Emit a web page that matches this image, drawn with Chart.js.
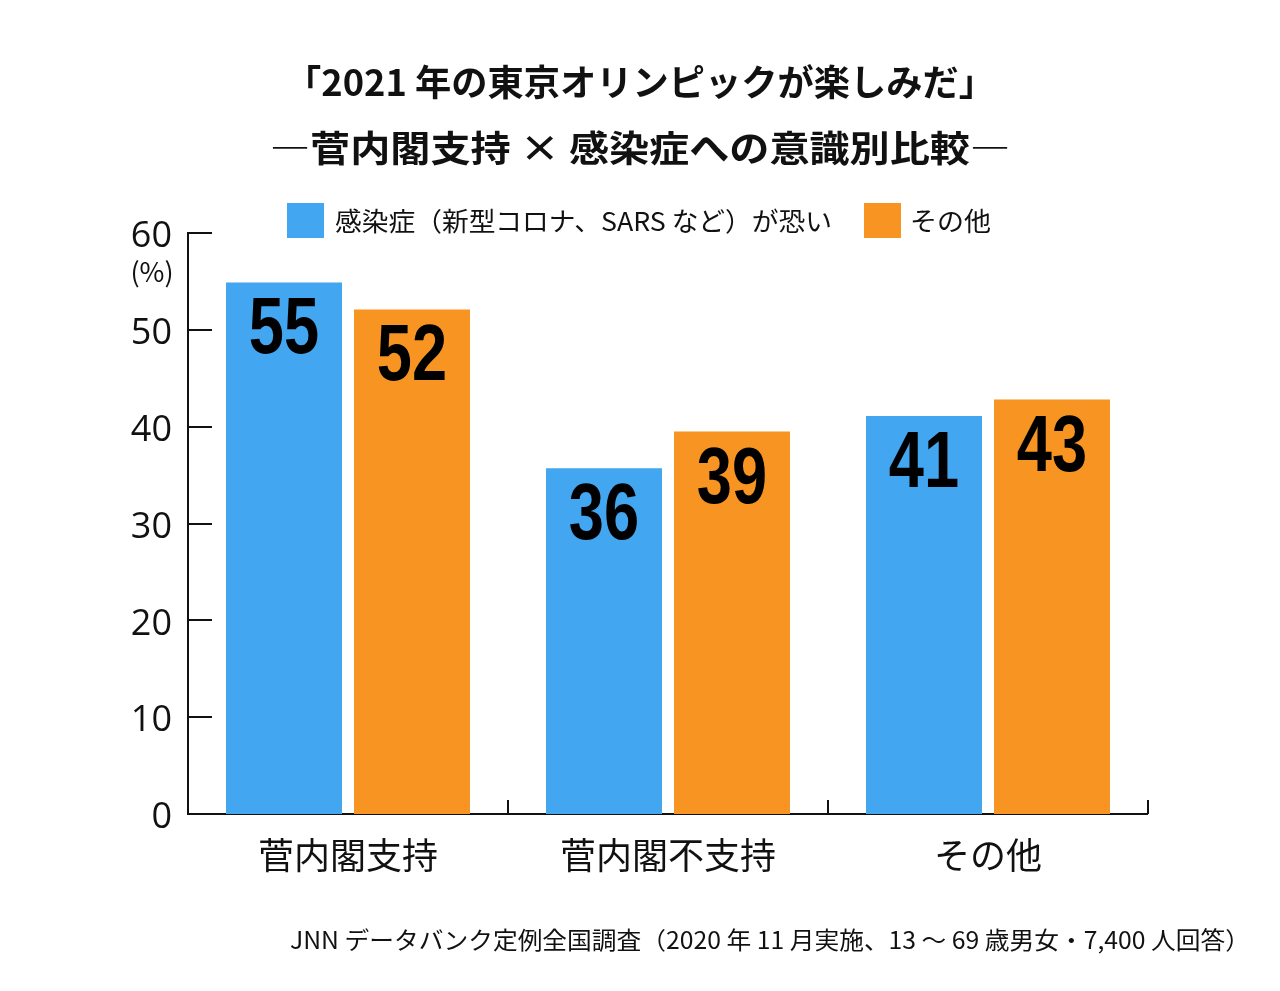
<!DOCTYPE html>
<html><head><meta charset="utf-8">
<script src="https://cdn.jsdelivr.net/npm/chart.js@4.4.1/dist/chart.umd.min.js"></script>
<style>html,body{margin:0;padding:0;background:#fff}#wrap{width:1280px;height:991px}</style>
</head><body><div id="wrap"><canvas id="c" width="1280" height="991"></canvas></div>
<script>
const categories = ['菅内閣支持', '菅内閣不支持', 'その他'];
const seriesNames = ['感染症（新型コロナ、SARS など）が恐い', 'その他'];
const fearValues = [54.9, 35.7, 41.1];
const otherValues = [52.1, 39.5, 42.8];
const fearLabels = ['55', '36', '41'];
const otherLabels = ['52', '39', '43'];
const yTicks = [0, 10, 20, 30, 40, 50, 60];
const yUnit = '(%)';
const titleLines = ['「2021 年の東京オリンピックが楽しみだ」', '―菅内閣支持 × 感染症への意識別比較―'];
const footnote = 'JNN データバンク定例全国調査（2020 年 11 月実施、13 〜 69 歳男女・7,400 人回答）';

const BLUE = '#42A6F0';
const ORANGE = '#F79422';
const INK = '#111111';
const JP = "'Noto Sans CJK JP', 'Noto Sans', sans-serif";
const NUM = "'Liberation Sans', Arial, sans-serif";

function fitText(ctx, text, x, y, width, align) {
  const w = ctx.measureText(text).width;
  const s = width / w;
  ctx.save();
  ctx.textAlign = 'left';
  let left = x;
  if (align === 'center') left = x - width / 2;
  else if (align === 'right') left = x - width;
  ctx.translate(left, y);
  ctx.scale(s, 1);
  ctx.fillText(text, 0, 0);
  ctx.restore();
}

const decor = {
  id: 'decor',
  afterDraw(chart) {
    const ctx = chart.ctx;
    const ca = chart.chartArea;
    const xs = chart.scales.x, ys = chart.scales.y;
    ctx.save();
    ctx.strokeStyle = INK;
    ctx.lineWidth = 2;
    // inward y ticks
    yTicks.forEach(v => {
      const y = Math.round(ys.getPixelForValue(v));
      ctx.beginPath(); ctx.moveTo(ca.left, y); ctx.lineTo(ca.left + 24, y); ctx.stroke();
    });
    // upward category separators
    const step = xs.width / categories.length;
    categories.forEach((c, i) => {
      const x = Math.round(xs.getPixelForValue(i) + step / 2);
      ctx.beginPath(); ctx.moveTo(x, ca.bottom); ctx.lineTo(x, ca.bottom - 14); ctx.stroke();
    });
    // unit
    ctx.fillStyle = INK;
    ctx.font = "27px " + JP;
    ctx.textAlign = 'center'; ctx.textBaseline = 'middle';
    ctx.fillText(yUnit, 152, 272);
    // data labels
    ctx.font = "bold 79px " + NUM;
    ctx.textBaseline = 'alphabetic';
    ctx.fillStyle = '#000';
    const lbls = [fearLabels, otherLabels];
    chart.data.datasets.forEach((ds, di) => {
      chart.getDatasetMeta(di).data.forEach((bar, i) => {
        const t = lbls[di][i];
        const w = ctx.measureText(t).width * 0.8;
        fitText(ctx, t, bar.x, bar.y + 71, w, 'center');
      });
    });
    // title
    ctx.fillStyle = INK;
    ctx.font = "bold 36px " + JP;
    ctx.textBaseline = 'middle';
    fitText(ctx, titleLines[0], 640, 82, 710, 'center');
    fitText(ctx, titleLines[1], 640, 148, 740, 'center');
    // legend
    const colors = [BLUE, ORANGE];
    const boxX = [287, 864];
    const textX = [335, 910];
    const textW = [497, 81];
    ctx.font = "26px " + JP;
    seriesNames.forEach((n, i) => {
      ctx.fillStyle = colors[i];
      ctx.fillRect(boxX[i], 203, 37, 35);
      ctx.fillStyle = INK;
      fitText(ctx, n, textX[i], 221, textW[i], 'left');
    });
    // footnote
    ctx.font = "24px " + JP;
    fitText(ctx, footnote, 1250, 940, 960, 'right');
    ctx.restore();
  }
};

new Chart(document.getElementById('c'), {
  type: 'bar',
  data: {
    labels: categories,
    datasets: [
      { label: seriesNames[0], data: fearValues, backgroundColor: BLUE, borderWidth: 0 },
      { label: seriesNames[1], data: otherValues, backgroundColor: ORANGE, borderWidth: 0 }
    ]
  },
  options: {
    responsive: false,
    animation: false,
    devicePixelRatio: 1,
    categoryPercentage: 0.8,
    barPercentage: 0.906,
    layout: { padding: { left: 0, top: 233, right: 132, bottom: 97 } },
    plugins: { legend: { display: false }, title: { display: false }, tooltip: { enabled: false } },
    scales: {
      x: {
        offset: true,
        grid: { display: true, drawOnChartArea: false, drawTicks: false, lineWidth: 0 },
        border: { display: true, color: INK, width: 2 },
        ticks: { color: INK, font: { family: JP, size: 36 }, padding: 20 },
        afterFit: s => { s.height = 80; }
      },
      y: {
        min: 0, max: 60,
        afterBuildTicks: s => { s.ticks = yTicks.map(v => ({ value: v })); },
        grid: { display: true, drawOnChartArea: false, drawTicks: false, lineWidth: 0 },
        border: { display: true, color: INK, width: 2 },
        ticks: { color: INK, font: { family: "'Open Sans', 'Noto Sans', sans-serif", size: 36 }, padding: 16, labelOffset: 4 },
        afterFit: s => { s.width = 188; }
      }
    }
  },
  plugins: [decor]
});
</script>
</body></html>
